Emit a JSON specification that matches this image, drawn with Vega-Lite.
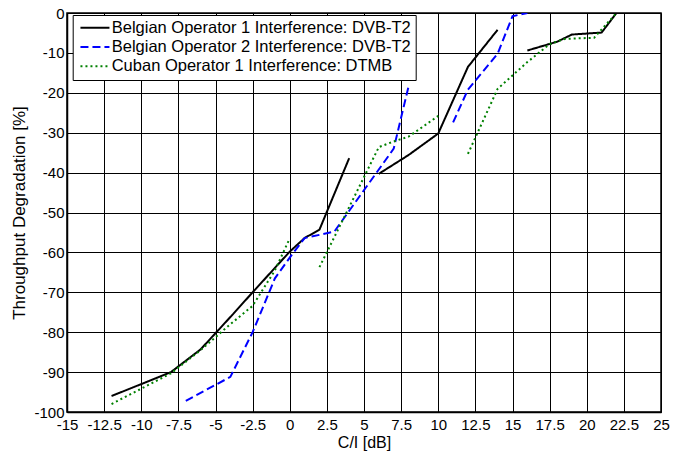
{
  "$schema": "https://vega.github.io/schema/vega-lite/v6.json",
  "width": 594,
  "height": 399,
  "autosize": "none",
  "padding": {"left": 67, "top": 13, "right": 25, "bottom": 39},
  "background": "white",
  "config": {
    "font": "Liberation Sans",
    "view": {"stroke": "black", "strokeWidth": 1.5},
    "axis": {
      "domainColor": "black",
      "domainWidth": 1.5,
      "gridColor": "black",
      "gridOpacity": 1,
      "gridWidth": 1,
      "ticks": false,
      "labelFont": "Liberation Sans",
      "labelFontSize": 15,
      "labelColor": "black",
      "titleFont": "Liberation Sans",
      "titleFontWeight": "normal",
      "titleColor": "black"
    },
    "legend": {
      "orient": "none",
      "legendX": 5.7,
      "legendY": 2,
      "fillColor": "white",
      "strokeColor": "black",
      "padding": 4.5,
      "labelFont": "Liberation Sans",
      "labelFontSize": 16.5,
      "labelColor": "black",
      "labelLimit": 400,
      "labelOffset": 18,
      "symbolType": "M-1,0H4.8",
      "symbolSize": 100,
      "symbolStrokeWidth": 2,
      "rowPadding": 2.2
    }
  },
  "data": {
    "values": [
      {"series": "Belgian Operator 1 Interference: DVB-T2", "seg": "b1a", "ci": -12, "tp": -96},
      {"series": "Belgian Operator 1 Interference: DVB-T2", "seg": "b1a", "ci": -10, "tp": -93},
      {"series": "Belgian Operator 1 Interference: DVB-T2", "seg": "b1a", "ci": -8, "tp": -90},
      {"series": "Belgian Operator 1 Interference: DVB-T2", "seg": "b1a", "ci": -6, "tp": -84.3},
      {"series": "Belgian Operator 1 Interference: DVB-T2", "seg": "b1a", "ci": -4, "tp": -76.2},
      {"series": "Belgian Operator 1 Interference: DVB-T2", "seg": "b1a", "ci": -2.5, "tp": -70},
      {"series": "Belgian Operator 1 Interference: DVB-T2", "seg": "b1a", "ci": 0, "tp": -59.8},
      {"series": "Belgian Operator 1 Interference: DVB-T2", "seg": "b1a", "ci": 1, "tp": -56.4},
      {"series": "Belgian Operator 1 Interference: DVB-T2", "seg": "b1a", "ci": 2, "tp": -54.3},
      {"series": "Belgian Operator 1 Interference: DVB-T2", "seg": "b1a", "ci": 4, "tp": -36.4},
      {"series": "Belgian Operator 1 Interference: DVB-T2", "seg": "b1b", "ci": 6, "tp": -40.3},
      {"series": "Belgian Operator 1 Interference: DVB-T2", "seg": "b1b", "ci": 8, "tp": -35.6},
      {"series": "Belgian Operator 1 Interference: DVB-T2", "seg": "b1b", "ci": 10, "tp": -30.2},
      {"series": "Belgian Operator 1 Interference: DVB-T2", "seg": "b1b", "ci": 12, "tp": -13.5},
      {"series": "Belgian Operator 1 Interference: DVB-T2", "seg": "b1b", "ci": 14, "tp": -4.2},
      {"series": "Belgian Operator 1 Interference: DVB-T2", "seg": "b1c", "ci": 16, "tp": -9.4},
      {"series": "Belgian Operator 1 Interference: DVB-T2", "seg": "b1c", "ci": 18, "tp": -7.2},
      {"series": "Belgian Operator 1 Interference: DVB-T2", "seg": "b1c", "ci": 19, "tp": -5.4},
      {"series": "Belgian Operator 1 Interference: DVB-T2", "seg": "b1c", "ci": 21, "tp": -4.9},
      {"series": "Belgian Operator 1 Interference: DVB-T2", "seg": "b1c", "ci": 22, "tp": 0},
      {"series": "Belgian Operator 2 Interference: DVB-T2", "seg": "b2a", "ci": -7, "tp": -97.2},
      {"series": "Belgian Operator 2 Interference: DVB-T2", "seg": "b2a", "ci": -4, "tp": -91.2},
      {"series": "Belgian Operator 2 Interference: DVB-T2", "seg": "b2a", "ci": -2.5, "tp": -80},
      {"series": "Belgian Operator 2 Interference: DVB-T2", "seg": "b2a", "ci": -1, "tp": -66.5},
      {"series": "Belgian Operator 2 Interference: DVB-T2", "seg": "b2a", "ci": 0, "tp": -61.3},
      {"series": "Belgian Operator 2 Interference: DVB-T2", "seg": "b2a", "ci": 1, "tp": -56.4},
      {"series": "Belgian Operator 2 Interference: DVB-T2", "seg": "b2a", "ci": 3, "tp": -54.8},
      {"series": "Belgian Operator 2 Interference: DVB-T2", "seg": "b2a", "ci": 7, "tp": -34},
      {"series": "Belgian Operator 2 Interference: DVB-T2", "seg": "b2a", "ci": 8, "tp": -18.4},
      {"series": "Belgian Operator 2 Interference: DVB-T2", "seg": "b2b", "ci": 11, "tp": -27.4},
      {"series": "Belgian Operator 2 Interference: DVB-T2", "seg": "b2b", "ci": 12, "tp": -19.2},
      {"series": "Belgian Operator 2 Interference: DVB-T2", "seg": "b2b", "ci": 14, "tp": -10.2},
      {"series": "Belgian Operator 2 Interference: DVB-T2", "seg": "b2b", "ci": 15, "tp": -0.8},
      {"series": "Belgian Operator 2 Interference: DVB-T2", "seg": "b2b", "ci": 16, "tp": 0},
      {"series": "Cuban Operator 1 Interference: DTMB", "seg": "c1a", "ci": -12, "tp": -98},
      {"series": "Cuban Operator 1 Interference: DTMB", "seg": "c1a", "ci": -8, "tp": -90.3},
      {"series": "Cuban Operator 1 Interference: DTMB", "seg": "c1a", "ci": -6, "tp": -84.5},
      {"series": "Cuban Operator 1 Interference: DTMB", "seg": "c1a", "ci": -4, "tp": -78},
      {"series": "Cuban Operator 1 Interference: DTMB", "seg": "c1a", "ci": -2.5, "tp": -73.4},
      {"series": "Cuban Operator 1 Interference: DTMB", "seg": "c1a", "ci": -1, "tp": -64.5},
      {"series": "Cuban Operator 1 Interference: DTMB", "seg": "c1a", "ci": 0, "tp": -56.5},
      {"series": "Cuban Operator 1 Interference: DTMB", "seg": "c1b", "ci": 2, "tp": -63.7},
      {"series": "Cuban Operator 1 Interference: DTMB", "seg": "c1b", "ci": 6, "tp": -33.6},
      {"series": "Cuban Operator 1 Interference: DTMB", "seg": "c1b", "ci": 7, "tp": -32.2},
      {"series": "Cuban Operator 1 Interference: DTMB", "seg": "c1b", "ci": 8, "tp": -31},
      {"series": "Cuban Operator 1 Interference: DTMB", "seg": "c1b", "ci": 10, "tp": -25.8},
      {"series": "Cuban Operator 1 Interference: DTMB", "seg": "c1c", "ci": 12, "tp": -35.3},
      {"series": "Cuban Operator 1 Interference: DTMB", "seg": "c1c", "ci": 14, "tp": -19},
      {"series": "Cuban Operator 1 Interference: DTMB", "seg": "c1c", "ci": 16, "tp": -12.3},
      {"series": "Cuban Operator 1 Interference: DTMB", "seg": "c1c", "ci": 17.5, "tp": -7.8},
      {"series": "Cuban Operator 1 Interference: DTMB", "seg": "c1c", "ci": 18.5, "tp": -6.5},
      {"series": "Cuban Operator 1 Interference: DTMB", "seg": "c1c", "ci": 20.5, "tp": -6.2},
      {"series": "Cuban Operator 1 Interference: DTMB", "seg": "c1c", "ci": 22, "tp": 0}
    ]
  },
  "mark": {"type": "line", "strokeWidth": 2, "clip": true},
  "encoding": {
    "x": {
      "field": "ci",
      "type": "quantitative",
      "scale": {"domain": [-15, 25], "nice": false},
      "axis": {
        "title": "C/I [dB]",
        "titleFontSize": 16,
        "values": [-15, -12.5, -10, -7.5, -5, -2.5, 0, 2.5, 5, 7.5, 10, 12.5, 15, 17.5, 20, 22.5, 25],
        "format": ".1~f",
        "labelExpr": "replace(datum.label, '\u2212', '-')",
        "labelPadding": 5,
        "titlePadding": 2,
        "labelFlush": false,
        "labelOverlap": false
      }
    },
    "y": {
      "field": "tp",
      "type": "quantitative",
      "scale": {"domain": [-100, 0], "nice": false},
      "axis": {
        "title": "Throughput Degradation [%]",
        "titleFontSize": 17,
        "values": [-100, -90, -80, -70, -60, -50, -40, -30, -20, -10, 0],
        "format": ".1~f",
        "labelExpr": "replace(datum.label, '\u2212', '-')",
        "labelPadding": 3,
        "titlePadding": 5,
        "labelFlush": false,
        "labelOverlap": false
      }
    },
    "color": {
      "field": "series",
      "type": "nominal",
      "title": null,
      "scale": {
        "domain": ["Belgian Operator 1 Interference: DVB-T2", "Belgian Operator 2 Interference: DVB-T2", "Cuban Operator 1 Interference: DTMB"],
        "range": ["#000000", "#0000ff", "#008000"]
      }
    },
    "strokeDash": {
      "field": "series",
      "type": "nominal",
      "title": null,
      "scale": {
        "domain": ["Belgian Operator 1 Interference: DVB-T2", "Belgian Operator 2 Interference: DVB-T2", "Cuban Operator 1 Interference: DTMB"],
        "range": [[1, 0], [8, 4], [2, 3]]
      }
    },
    "detail": {"field": "seg", "type": "nominal"}
  }
}
